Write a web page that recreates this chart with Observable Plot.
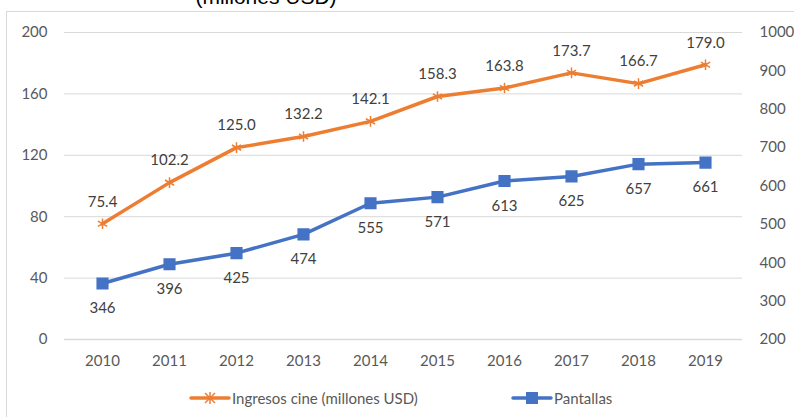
<!DOCTYPE html>
<html><head><meta charset="utf-8">
<script src="https://cdn.jsdelivr.net/npm/d3@7"></script>
<script src="https://cdn.jsdelivr.net/npm/@observablehq/plot@0.6"></script>
<style>
body{margin:0;background:#fff;}
#wrap{position:relative;width:794px;height:417px;overflow:hidden;font-family:Lato,"Open Sans",sans-serif;}
#border{position:absolute;left:6px;top:11px;width:900px;height:500px;border:1px solid #d9d9d9;}
#title{position:absolute;top:-15px;left:0;width:532px;text-align:center;font-family:"Liberation Sans",Arial,sans-serif;font-size:21px;color:#000;}
#chart{position:absolute;left:0;top:0;}
#legend{position:absolute;top:388px;left:0;width:794px;height:20px;font-size:15px;color:#595959;}
.li{position:absolute;top:0;display:flex;align-items:center;height:20px;}
.li svg{margin-right:1px;}
</style></head>
<body>
<div id="wrap">
<div id="border"></div>
<div id="title">(millones USD)</div>
<div id="chart"></div>
<div id="legend"></div>
</div>
<script>
const years = ["2010","2011","2012","2013","2014","2015","2016","2017","2018","2019"];
const ingresos = [75.4,102.2,125.0,132.2,142.1,158.3,163.8,173.7,166.7,179.0];
const pantallas = [346,396,425,474,555,571,613,625,657,661];
const leftTicks = [0,40,80,120,160,200];
const rightTicks = [200,300,400,500,600,700,800,900,1000];
const seriesNames = ["Ingresos cine (millones USD)","Pantallas"];
const orange = "#ED7D31", blue = "#4472C4";

const toLeft = p => (p - 200) / 4;
const toRight = v => v * 4 + 200;

const dataI = years.map((y,i)=>({year:y, v:ingresos[i]}));
const dataP = years.map((y,i)=>({year:y, v:pantallas[i]}));

const chart = Plot.plot({
  width: 794, height: 372,
  marginLeft: 64, marginRight: 52, marginTop: 32, marginBottom: 33,
  style:{fontFamily:"Lato,'Open Sans',sans-serif", fontSize:"15px", color:"#595959", background:"transparent"},
  x:{type:"point", domain:years, padding:0.5},
  y:{domain:[0,200]},
  marks:[
    Plot.gridY(leftTicks,{stroke:"#d9d9d9", strokeOpacity:1, strokeWidth:1}),
    Plot.ruleY([0],{stroke:"#d9d9d9", strokeWidth:1.5}),
    Plot.axisY(leftTicks,{anchor:"left", tickSize:0, tickPadding:17, fontSize:15, fill:"#595959", label:null}),
    Plot.axisY(rightTicks.map(toLeft),{anchor:"right", tickSize:0, tickPadding:17, fontSize:15, fill:"#595959", tickFormat:d=>String(toRight(d)), label:null, textAnchor:"start"}),
    Plot.axisX(years,{tickSize:0, tickPadding:16, fontSize:15, fill:"#595959", label:null}),
    Plot.line(dataI,{x:"year", y:"v", stroke:orange, strokeWidth:3.5}),
    Plot.dot(dataI,{x:"year", y:"v", symbol:"asterisk", r:5, stroke:orange, strokeWidth:1.5}),
    Plot.text(dataI,{x:"year", y:"v", text:d=>d.v.toFixed(1), dy:-22, fontSize:15, fill:"#404040"}),
    Plot.line(dataP,{x:"year", y:d=>toLeft(d.v), stroke:blue, strokeWidth:3.5}),
    Plot.dot(dataP,{x:"year", y:d=>toLeft(d.v), symbol:"square", r:6, fill:blue, stroke:blue}),
    Plot.text(dataP,{x:"year", y:d=>toLeft(d.v), text:d=>String(d.v), dy:25, fontSize:15, fill:"#404040"})
  ]
});
document.getElementById("chart").appendChild(chart);

// legend
const leg = document.getElementById("legend");
function item(name, color, sym, left){
  const div = document.createElement("div");
  div.className="li"; div.style.left = left+"px";
  let s = `<svg width="42" height="20"><line x1="2" x2="40" y1="10" y2="10" stroke="${color}" stroke-width="3.5" stroke-linecap="round"/>`;
  if(sym==="asterisk"){
    s += `<g stroke="${color}" stroke-width="1.5"><line x1="16" y1="5" x2="26" y2="15"/><line x1="26" y1="5" x2="16" y2="15"/><line x1="21" y1="4" x2="21" y2="16"/></g>`;
  } else {
    s += `<rect x="15" y="4" width="12" height="12" fill="${color}"/>`;
  }
  s += `</svg>`;
  div.innerHTML = s + `<span>${name}</span>`;
  leg.appendChild(div);
}
item(seriesNames[0], orange, "asterisk", 189);
item(seriesNames[1], blue, "square", 511);
</script>
</body></html>
